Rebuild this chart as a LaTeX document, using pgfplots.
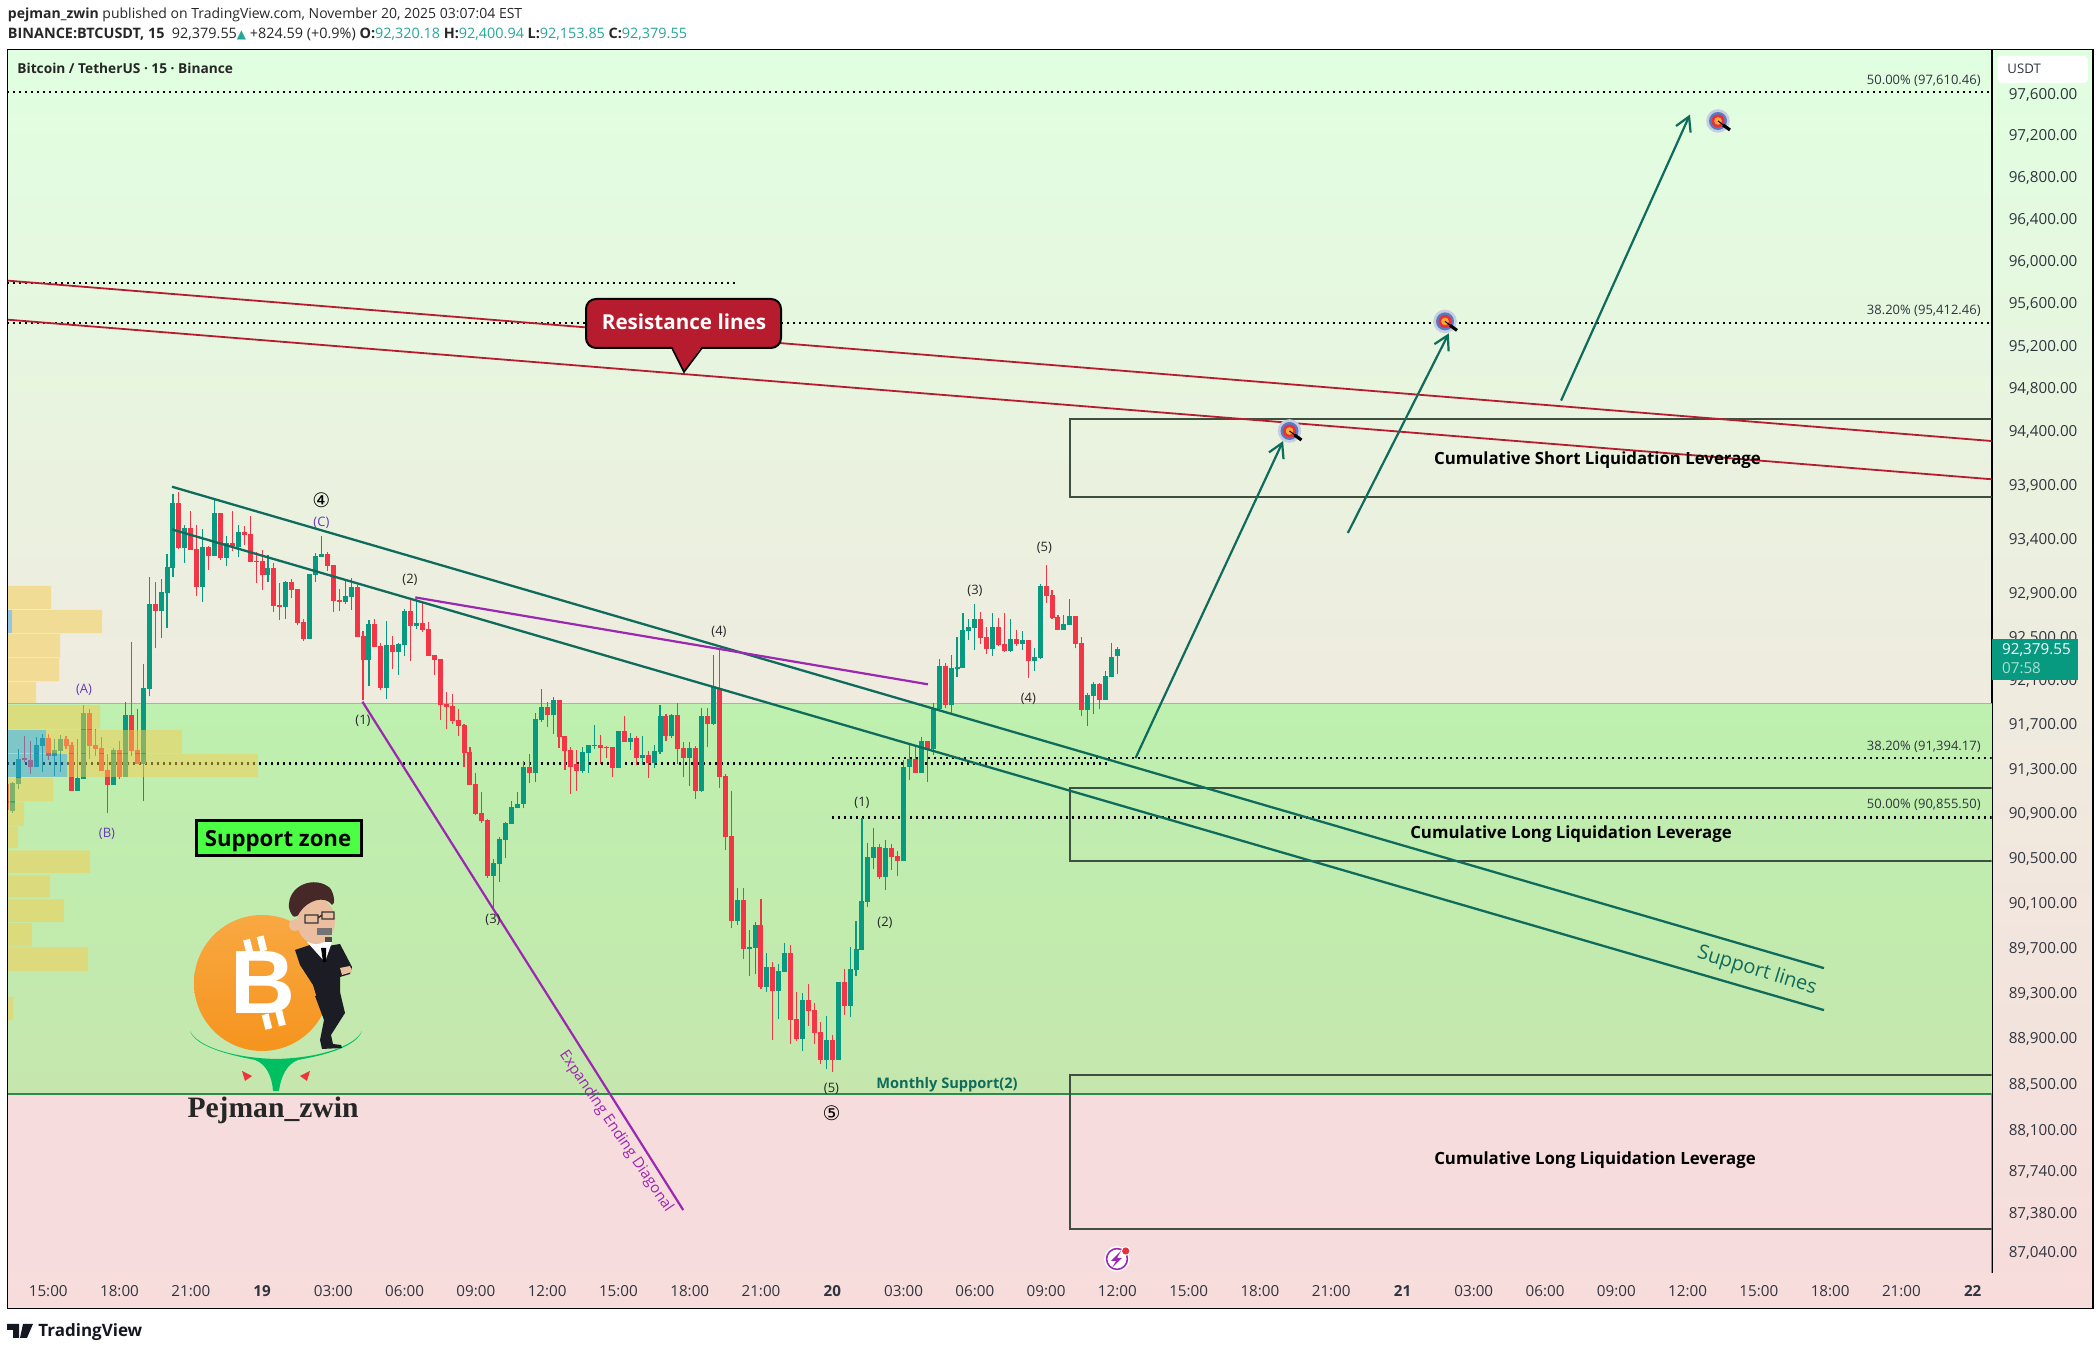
\documentclass[border=0pt]{standalone}
\usepackage{pgfplots}
\usepackage{pgfplotstable}
\usepackage{fontspec}
\pgfplotsset{compat=1.18}
\usetikzlibrary{arrows.meta}
\setmainfont{Open Sans}
\newfontfamily\dejavu{DejaVu Sans}
\newfontfamily\lserif{Liberation Serif}
\newfontfamily\lsans{Liberation Sans}
\definecolor{cup}{HTML}{089981}
\definecolor{cdn}{HTML}{F23645}
\definecolor{tline}{HTML}{0F6B5C}
\definecolor{rline}{HTML}{B71C2E}
\definecolor{pline}{HTML}{9C27B0}
\definecolor{boxc}{HTML}{3E4F42}
\definecolor{vpY}{HTML}{F6CC4C}
\definecolor{vpB}{HTML}{3CA0E1}
\definecolor{ttxt}{HTML}{2F343F}
\definecolor{teal}{HTML}{26A69A}
\definecolor{tvdark}{HTML}{131722}
\definecolor{tgtA}{RGB}{200,205,225}
\definecolor{tgtB}{RGB}{85,125,195}
\definecolor{tgtR}{RGB}{230,50,60}
\definecolor{tgtO}{RGB}{250,170,50}
\definecolor{swoosh}{RGB}{0,191,99}
\definecolor{tri}{RGB}{240,50,60}
\definecolor{skin}{RGB}{236,190,160}
\definecolor{hair}{RGB}{70,40,40}
\definecolor{suit}{RGB}{28,28,36}
\newcommand\fs[1]{\fontsize{#1}{#1}\selectfont}
% candles: i, low, high, body bottom, body top
\pgfplotstableread{
i L H B T
-6 90899 91178 90916 91169
-5 91118 91479 91163 91389
-2 91314 91585 91320 91510
-1 91268 91609 91501 91573
1 91238 91561 91410 91464
2 91268 91600 91458 91561
5 91102 91561 91102 91211
6 91202 91872 91202 91799
11 91148 91483 91148 91464
13 91220 91899 91220 91781
16 91003 92246 91338 92027
17 91953 93043 92017 92794
19 92484 93025 92730 92905
20 92575 93255 92896 93135
21 93043 93810 93126 93725
23 93172 93523 93310 93495
26 92813 93486 92951 93320
28 93237 93753 93237 93633
30 93145 93421 93218 93354
32 93228 93523 93320 93458
37 92997 93246 93062 93126
40 92657 93006 92767 92997
44 92475 93071 92475 93071
45 92997 93265 93062 93237
46 93228 93421 93228 93255
50 92794 93016 92813 92868
51 92740 93034 92859 92951
54 92045 92648 92283 92612
57 91926 92639 92027 92420
59 92145 92438 92356 92429
60 92319 92749 92420 92730
62 92566 92840 92593 92621
75 90046 90486 90332 90448
76 90278 90681 90439 90663
77 90493 90815 90654 90806
78 90797 91012 90797 90949
79 90940 91093 90940 90985
80 90940 91365 90976 91311
82 91175 91799 91256 91745
83 91718 92017 91736 91854
85 91609 91944 91781 91917
90 91265 91492 91274 91446
91 91265 91510 91440 91510
92 91474 91691 91501 91510
96 91302 91636 91302 91636
98 91464 91618 91537 91573
100 91329 91591 91392 91419
102 91302 91510 91347 91455
103 91428 91872 91446 91772
105 91573 91790 91591 91781
108 91139 91537 91392 91483
110 91093 91845 91102 91772
112 91691 92328 91700 92036
116 89896 90225 89931 90117
118 89444 89852 89683 89701
119 89462 89922 89692 89896
121 89303 89648 89347 89524
123 89065 89551 89312 89489
124 89480 89736 89480 89648
127 88784 89294 88890 89232
131 88626 89092 88705 88881
133 88705 89391 88705 89391
135 89083 89701 89179 89506
136 89444 89931 89497 89683
137 89674 90851 89674 90108
138 90055 90627 90099 90502
139 90395 90761 90493 90591
141 90206 90654 90323 90582
144 90466 91374 90466 91320
145 91193 91519 91320 91383
147 91265 91582 91265 91546
149 91419 91890 91474 91836
150 91836 92292 91836 92228
152 91808 92328 91872 92209
153 92127 92493 92200 92219
154 92209 92712 92209 92557
155 92465 92657 92548 92584
156 92374 92794 92575 92657
159 92319 92712 92383 92584
162 92356 92657 92365 92475
164 92374 92548 92429 92465
166 92182 92392 92273 92310
167 92292 92979 92301 92960
171 92557 92694 92557 92612
172 92603 92840 92603 92685
175 91682 91981 91827 91963
176 91790 92082 91954 92063
178 91917 92182 91917 92136
179 92127 92438 92127 92310
180 92153.85 92400.94 92320.18 92379.55
}\upT
\pgfplotstableread{
i L H B T
-7 90923 91163 90923 91163
-4 91359 91591 91374 91392
-3 91247 91546 91320 91380
0 91374 91609 91410 91573
3 91479 91591 91501 91561
4 91102 91543 91102 91510
7 91386 91836 91501 91799
8 91410 91655 91474 91510
9 91274 91582 91274 91483
10 90899 91428 91148 91283
12 91202 91546 91220 91464
14 91410 92447 91455 91781
15 91338 91836 91338 91464
18 92392 92997 92730 92794
22 93301 93829 93310 93725
24 93292 93652 93292 93495
25 92868 93523 92951 93301
27 93108 93329 93237 93320
29 93200 93633 93218 93633
31 93283 93652 93329 93357
33 93338 93513 93430 93458
34 93181 93606 93181 93440
35 92988 93274 93181 93191
36 92923 93292 93062 93191
38 92721 93172 92776 93126
39 92648 92988 92767 92785
41 92850 93025 92923 92997
42 92602 92933 92618 92933
43 92456 92657 92475 92630
47 93099 93274 93145 93255
48 92721 93154 92822 93154
49 92730 92933 92813 92831
52 92493 92970 92493 92951
53 91917 92548 92283 92502
55 92401 92657 92401 92612
56 92008 92438 92027 92411
58 92200 92502 92356 92420
61 92273 92850 92593 92730
63 92538 92804 92557 92621
64 92319 92630 92319 92566
65 92145 92328 92283 92328
66 91736 92292 91872 92292
67 91655 91990 91854 91881
68 91700 91972 91727 91863
69 91591 91836 91682 91736
70 91320 91700 91437 91691
71 91148 91492 91148 91446
72 90878 91256 90887 91157
73 90806 91093 90824 90896
74 90316 90846 90332 90833
81 91166 91428 91256 91311
84 91673 91899 91781 91854
86 91483 91917 91582 91917
87 91283 91591 91455 91591
88 91066 91492 91320 91464
89 91102 91464 91274 91338
93 91338 91600 91483 91510
94 91392 91501 91483 91492
95 91220 91492 91302 91492
97 91537 91772 91537 91636
99 91329 91591 91392 91573
101 91211 91455 91347 91419
104 91546 91790 91591 91772
106 91338 91890 91474 91781
107 91220 91537 91392 91483
109 91030 91501 91102 91483
111 91492 91845 91700 91772
113 91120 92383 91220 92018
114 90565 91247 90681 91229
115 89869 91102 89931 90690
117 89595 90225 89683 90117
120 89329 90126 89347 89896
122 88881 89568 89312 89524
125 88846 89719 89056 89648
126 88872 89303 88890 89065
128 89004 89373 89135 89232
129 88846 89206 88942 89144
130 88670 89039 88705 88951
132 88600 88925 88705 88881
134 89100 89506 89179 89391
140 90306 90618 90323 90591
142 90386 90618 90502 90582
143 90332 90556 90466 90511
146 91265 91492 91265 91383
148 91175 91546 91474 91546
151 91845 92255 91872 92228
157 92429 92721 92484 92657
158 92337 92584 92383 92493
160 92411 92666 92420 92584
161 92356 92712 92365 92429
163 92411 92557 92429 92475
165 92118 92465 92273 92465
168 92804 93154 92868 92960
169 92657 92923 92666 92877
170 92557 92694 92557 92676
173 92392 92685 92429 92685
174 91772 92493 91827 92438
177 91836 92072 91917 92063
}\downT
\newcommand\vp[5]{\addplot[forget plot,draw=none,fill=#5,fill opacity=.5] coordinates {(#1,#3)(#2,#3)(#2,#4)(#1,#4)(#1,#3)};}
\newcommand\dotline[3]{\addplot[forget plot,black,line width=1.1pt,dash pattern=on 1pt off 2pt] coordinates {(#1,#3)(#2,#3)};}
% turn a candle table into gapped coordinate lists
\newcommand\buildsegs[3]{% table, wick macro, body macro
  \gdef#2{}\gdef#3{}%
  \pgfplotstablegetrowsof{#1}\pgfmathtruncatemacro\nrows{\pgfplotsretval-1}%
  \pgfplotsforeachungrouped \r in {0,...,\nrows}{%
    \pgfplotstablegetelem{\r}{i}\of#1\let\ci\pgfplotsretval
    \pgfplotstablegetelem{\r}{L}\of#1\let\cl\pgfplotsretval
    \pgfplotstablegetelem{\r}{H}\of#1\let\ch\pgfplotsretval
    \pgfplotstablegetelem{\r}{B}\of#1\let\cb\pgfplotsretval
    \pgfplotstablegetelem{\r}{T}\of#1\let\ct\pgfplotsretval
    \xdef#2{#2(\ci,\cl)(\ci,\ch)(\ci,nan)}%
    \xdef#3{#3(\ci,\cb)(\ci,\ct)(\ci,nan)}%
  }}
\begin{document}
\begin{tikzpicture}
\buildsegs{\upT}{\upW}{\upB}
\buildsegs{\downT}{\dnW}{\dnB}
\path[use as bounding box] (0,0) rectangle (1050pt,676pt);
\begin{scope}[x=.5pt,y=-.5pt,shift={(0,676pt)}]
\shade[top color={rgb,255:red,224;green,255;blue,224},bottom color={rgb,255:red,239;green,235;blue,223}] (7.3,49.7) rectangle (2092.7,703);
\shade[top color={rgb,255:red,239;green,235;blue,223},bottom color={rgb,255:red,247;green,220;blue,220}] (7.3,703) rectangle (2092.7,1308.7);
\end{scope}
\begin{axis}[
  at={(3.65pt,39.7pt)},anchor=south west,scale only axis,
  width=992.2pt,height=611.45pt,
  % the price scale of the chart is logarithmic: prices stay prices in the data,
  % the filter maps them onto the scale
  y filter/.code={\pgfmathparse{10115*ln(\pgfmathresult/97600)}},
  xmin=-6.89,xmax=327.2,ymin=-1179.3,ymax=43.6,
  unbounded coords=jump,
  axis line style={line width=.8pt,black},
  tick style={draw=none},major tick length=0pt,
  xtick={0,12,...,324},
  xticklabels={15:00,18:00,21:00,\textbf{19},03:00,06:00,09:00,12:00,15:00,18:00,21:00,\textbf{20},03:00,06:00,09:00,12:00,15:00,18:00,21:00,\textbf{21},03:00,06:00,09:00,12:00,15:00,18:00,21:00,\textbf{22}},
  xticklabel style={font=\fs{7.6},text=ttxt,anchor=center,yshift=-9.1pt},
  ytick={-1158.3,-1118.9,-1077.3,-1035.9,-990,-944.4,-899,-853.8,-808.8,-764,-719.4,-675,-630.7,-586.7,-542.9,-499.2,-444.9,-390.9,-337.2,-294.4,-251.8,-209.4,-167.2,-125.1,-83.25,-41.5,0},
  yticklabels={{87,040.00},{87,380.00},{87,740.00},{88,100.00},{88,500.00},{88,900.00},{89,300.00},{89,700.00},{90,100.00},{90,500.00},{90,900.00},{91,300.00},{91,700.00},{92,100.00},{92,500.00},{92,900.00},{93,400.00},{93,900.00},{94,400.00},{94,800.00},{95,200.00},{95,600.00},{96,000.00},{96,400.00},{96,800.00},{97,200.00},{97,600.00}},
  yticklabel pos=right,
  yticklabel style={font=\fs{7.6},text=ttxt,anchor=west,xshift=5pt,yshift=-.7pt},
]
% zones
\addplot[forget plot,draw=none,top color={rgb,255:red,190;green,240;blue,175},bottom color={rgb,255:red,197;green,231;blue,174}] coordinates {(-6.89,91890)(327.2,91890)(327.2,88407)(-6.89,88407)(-6.89,91890)};
\addplot[forget plot,draw=none,fill={rgb,255:red,246;green,220;blue,220}] coordinates {(-6.89,88407)(327.2,88407)(327.2,86860)(-6.89,86860)(-6.89,88407)};
\addplot[forget plot,color={rgb,255:red,140;green,201;blue,127},line width=.7pt] coordinates {(-6.89,91890)(327.2,91890)};
\addplot[forget plot,color={rgb,255:red,46;green,139;blue,78},line width=1pt] coordinates {(-6.89,88407)(327.2,88407)};
% fib and level lines
\dotline{-6.89}{327.2}{97610.46}
\dotline{-6.89}{327.2}{95412.46}
\dotline{-6.89}{115.9}{95786}
\dotline{132}{327.2}{91394.17}
\dotline{132}{327.2}{90855.5}
\dotline{-6.89}{178.4}{91345}
% candles
\edef\tmp{\noexpand\addplot[forget plot,line width=.55pt,color=cup] coordinates {\upW};}\tmp
\edef\tmp{\noexpand\addplot[forget plot,line width=2.5pt,color=cup] coordinates {\upB};}\tmp
\edef\tmp{\noexpand\addplot[forget plot,line width=.55pt,color=cdn] coordinates {\dnW};}\tmp
\edef\tmp{\noexpand\addplot[forget plot,line width=2.5pt,color=cdn] coordinates {\dnB};}\tmp
% volume profile
\vp{-6.89}{0.47}{92960}{92749}{vpY}
\vp{-6.89}{-6.09}{92740}{92529}{vpB}
\vp{-6.09}{9.06}{92740}{92529}{vpY}
\vp{-6.89}{1.99}{92520}{92310}{vpY}
\vp{-6.89}{1.82}{92301}{92091}{vpY}
\vp{-6.89}{-2.05}{92082}{91890}{vpY}
\vp{-6.89}{8.72}{91872}{91655}{vpY}
\vp{-6.89}{-0.37}{91646}{91438}{vpB}
\vp{-0.37}{22.5}{91646}{91438}{vpY}
\vp{-6.89}{3.17}{91428}{91225}{vpB}
\vp{3.17}{35.3}{91428}{91225}{vpY}
\vp{-6.89}{0.81}{91215}{91003}{vpY}
\vp{-6.89}{-4.07}{90994}{90788}{vpY}
\vp{-6.89}{-5.08}{90779}{90582}{vpY}
\vp{-6.89}{7.04}{90564}{90359}{vpY}
\vp{-6.89}{0.30}{90341}{90144}{vpY}
\vp{-6.89}{2.66}{90126}{89922}{vpY}
\vp{-6.89}{-2.73}{89913}{89709}{vpY}
\vp{-6.89}{6.70}{89700}{89488}{vpY}
\vp{-6.89}{-5.93}{89258}{89056}{vpY}
% boxes
\addplot[forget plot,draw=boxc,line width=1pt] coordinates {(327.2,94507)(172,94507)(172,93781)(327.2,93781)};
\addplot[forget plot,draw=boxc,line width=1pt] coordinates {(327.2,91121)(172,91121)(172,90466)(327.2,90466)};
\addplot[forget plot,draw=boxc,line width=1pt] coordinates {(327.2,88568)(172,88568)(172,87238)(327.2,87238)};
% trend lines
\addplot[forget plot,rline,line width=.9pt] coordinates {(-6.89,95810)(327.2,94303)};
\addplot[forget plot,rline,line width=.9pt] coordinates {(-6.89,95442)(327.2,93948)};
\addplot[forget plot,tline,line width=1.15pt] coordinates {(20.84,93879)(298.96,89515)};
\addplot[forget plot,tline,line width=1.15pt] coordinates {(20.84,93483)(298.96,89144)};
\addplot[forget plot,pline,line width=1.1pt] coordinates {(61.8,92856)(148.1,92063)};
\addplot[forget plot,pline,line width=1.1pt] coordinates {(52.9,91905)(106.9,87400)};
% arrows
\addplot[forget plot,tline,line width=1.1pt,-{Straight Barb[length=7pt,width=8pt]}] coordinates {(183.05,91392)(207.9,94303)};
\addplot[forget plot,tline,line width=1.1pt,-{Straight Barb[length=7pt,width=8pt]}] coordinates {(218.8,93449)(235.8,95314)};
\addplot[forget plot,tline,line width=1.1pt,-{Straight Barb[length=7pt,width=8pt]}] coordinates {(254.7,94683)(276.4,97394)};
\end{axis}
\begin{scope}[x=.5pt,y=-.5pt,shift={(0,676pt)}]
\draw[black,line width=.8pt] (7.3,49.7) rectangle (2092.7,1308.7);
% header
\node[anchor=west,inner sep=0,text=black!85] at (7.6,15) {\fs{7}\textbf{pejman\_zwin} published on TradingView.com, November 20, 2025 03:07:04 EST};
\node[anchor=west,inner sep=0,text=black!85] at (7.6,34) {\fs{7.2}\textbf{BINANCE:BTCUSDT, 15}\ \ 92,379.55{\dejavu\textcolor{teal}{\fs{6}▲}} +824.59 (+0.9\%) \textbf{O:}\textcolor{teal}{92,320.18} \textbf{H:}\textcolor{teal}{92,400.94} \textbf{L:}\textcolor{teal}{92,153.85} \textbf{C:}\textcolor{teal}{92,379.55}};
\node[anchor=west,inner sep=0,text=black!85] at (17,68) {\fs{6.85}\textbf{Bitcoin / TetherUS · 15 · Binance}};
% USDT and price tag
\fill[white,rounded corners=2pt] (1997,56) rectangle (2088,83);
\node[anchor=west,inner sep=0,text=ttxt] at (2007,69) {\fs{6.6}USDT};
\fill[cup] (1991.7,639) rectangle (2078,680);
\node[anchor=west,inner sep=0,text=white] at (2001.7,650) {\fs{7.6}92,379.55};
\node[anchor=west,inner sep=0,text={rgb,255:red,166;green,224;blue,208}] at (2001.7,667.7) {\fs{7.6}07:58};
% fib labels
\foreach \yy/\tt in {81/{50.00\% (97,610.46)},311/{38.20\% (95,412.46)},746.5/{38.20\% (91,394.17)},805/{50.00\% (90,855.50)}}{
  \node[anchor=east,inner sep=0,text=ttxt] at (1981,\yy) {\fs{6.5}\tt};}
% box labels
\node[text=black] at (1597.5,460) {\fs{8.4}\textbf{Cumulative Short Liquidation Leverage}};
\node[text=black] at (1571,834) {\fs{8.4}\textbf{Cumulative Long Liquidation Leverage}};
\node[text=black] at (1595,1160) {\fs{8.4}\textbf{Cumulative Long Liquidation Leverage}};
\node[text=tline,rotate=-17] at (1757,971) {\fs{10}Support lines};
\node[text=pline,rotate=-56] at (616,1131.5) {\fs{7.5}Expanding Ending Diagonal};
\node[text=tline] at (947,1085) {\fs{7.3}\textbf{Monthly Support(2)}};
% wave labels
\foreach \xx/\yy/\tt in {84/689.5/(A),107/833.5/(B),321.4/522.5/(C)}{\node[text={rgb,255:red,103;green,58;blue,183}] at (\xx,\yy) {\fs{6.5}\tt};}
\foreach \xx/\yy/\tt in {363/720.5/(1),410/580/(2),493/920/(3),719/632/(4),831.5/1088.5/(5),862/802.5/(1),885/922.5/(2),975/590.5/(3),1028.4/699/(4),1044.4/547.5/(5)}{\node[text=black!85] at (\xx,\yy) {\fs{6.5}\tt};}
\node[text=black] at (321.4,500) {\fs{10}\dejavu ④};
\node[text=black] at (831.5,1113) {\fs{10}\dejavu ⑤};
% resistance callout
\draw[black,line width=1pt,fill=rline,rounded corners=5pt] (586,299) rectangle (781,348);
\fill[rline] (672,346) -- (684,372) -- (702,346) -- cycle;
\draw[black,line width=.8pt] (672,348) -- (684,372) -- (702,348);
\node[text=white] at (684,322) {\fs{10.3}\textbf{Resistance lines}};
% support zone
\draw[black,line width=1.5pt,fill={rgb,255:red,76;green,255;blue,68}] (196,821) rectangle (361,856);
\node[text=black] at (278,841) {\fs{11.1}\textbf{Support zone}};
% targets
\foreach \xx/\yy in {1718/121,1445/321.4,1289.5/431}{
  \fill[tgtA] (\xx,\yy) circle (5.9pt);
  \fill[tgtB] (\xx,\yy) circle (4.5pt);
  \fill[tgtR] (\xx,\yy) circle (3.3pt);
  \fill[tgtO] (\xx,\yy) circle (1.9pt);
  \draw[black,line width=.5pt] (\xx,\yy) -- ++(8,6);
  \draw[black,line width=1.6pt] (\xx,\yy) ++(5,4) -- ++(7,5);}
% lightning
\fill[white] (1117,1259) circle (6.4pt);
\draw[pline,line width=.8pt] (1117,1259) circle (5.2pt);
\fill[pline] (1121,1251) -- (1111,1261) -- (1116,1261) -- (1112,1268) -- (1122,1258) -- (1117,1258) -- cycle;
\fill[white] (1125.7,1251) circle (2.4pt);
\fill[tgtR] (1125.7,1251) circle (1.8pt);
% logo: coin
\shade[top color={rgb,255:red,249;green,168;blue,66},bottom color={rgb,255:red,245;green,148;blue,30}] (262,983) circle (34pt);
\begin{scope}[rotate around={14:(263,983)}]
\fill[white] (254,937) rectangle (261,952);
\fill[white] (268,937) rectangle (275,952);
\fill[white] (254,1014) rectangle (261,1029);
\fill[white] (268,1014) rectangle (275,1029);
\node[text=white] at (263,983) {\lsans\fs{45}\textbf{B}};
\end{scope}
% logo: swoosh
\fill[swoosh] (190,1031) .. controls (196,1048) and (235,1056) .. (255,1060) .. controls (266,1064) and (272,1076) .. (273,1091) -- (279,1091) .. controls (281,1076) and (287,1064) .. (298,1060) .. controls (320,1056) and (356,1048) .. (362,1031) .. controls (355,1046) and (320,1058) .. (276,1059) .. controls (232,1058) and (197,1046) .. (190,1031) -- cycle;
\fill[tri] (242,1071) -- (252,1076) -- (245,1081) -- cycle;
\fill[tri] (310,1071) -- (300,1076) -- (307,1081) -- cycle;
\node[text=black!85] at (273,1110) {\lserif\fs{14.8}\textbf{Pejman\_zwin}};
% logo: man
\fill[suit] (295,950) -- (310,945) -- (322,947) -- (340,944) -- (352,967) -- (350,974) -- (340,977) -- (340,993) -- (317,998) -- (313,985) -- (300,965) -- cycle;
\fill[suit] (315,996) -- (340,992) -- (345,1013) -- (331,1035) -- (333,1044) -- (341,1045) -- (342,1048) -- (322,1049) -- (320,1040) -- (324,1020) -- cycle;
\fill[white] (307,942) -- (332,942) -- (325,962) -- cycle;
\fill[black] (321,948) -- (326,948) -- (326,962) -- (323,962) -- cycle;
\fill[skin] (340,968) -- (350,966) -- (352,972) -- (342,975) -- cycle;
\fill[skin] (295,925) circle (3pt);
\fill[skin] (316,921) ellipse (9.5pt and 11.5pt);
\fill[hair] (289,908) .. controls (287,885) and (315,875) .. (330,888) .. controls (335,895) and (335,905) .. (332,905) .. controls (325,895) and (308,900) .. (300,912) .. controls (296,920) and (292,918) .. (289,908) -- cycle;
\draw[black!80,line width=.7pt] (305,915) rectangle (318,923) (322,912) rectangle (334,919) (318,918) -- (322,915);
\fill[black!55] (317,928) rectangle (332,935);
\fill[black!70] (325,937) rectangle (332,942);
% TradingView mark
\fill[tvdark] (7,1324) -- (19,1324) -- (19,1338) -- (13,1338) -- (13,1330) -- (7,1330) -- cycle;
\fill[tvdark] (23,1324) -- (33,1324) -- (27,1338) -- (20,1338) -- cycle;
\node[anchor=west,inner sep=0,text=tvdark] at (38,1332) {\fs{8.5}\textbf{TradingView}};
\end{scope}
\end{tikzpicture}
\end{document}
